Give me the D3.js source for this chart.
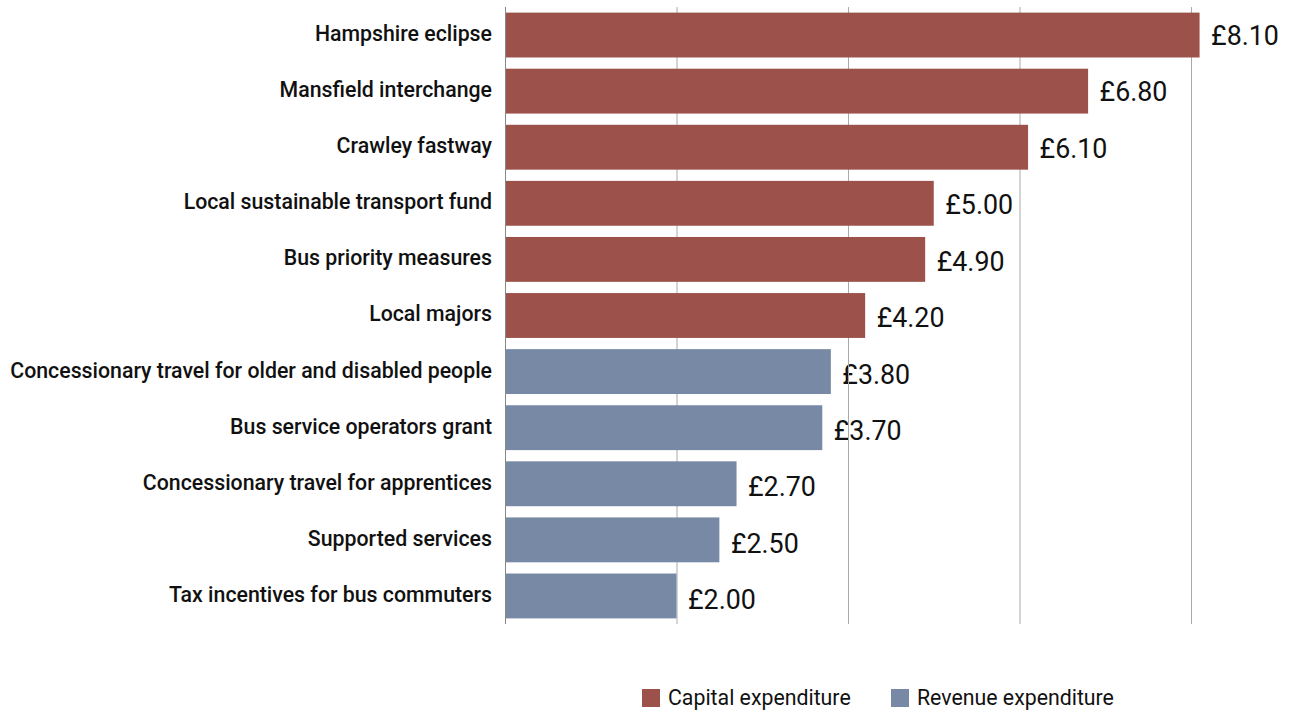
<!DOCTYPE html>
<html><head><meta charset="utf-8">
<script src="https://cdn.jsdelivr.net/npm/d3@7"></script>
<style>body{margin:0;background:#fff}svg{display:block;font-family:Roboto,sans-serif}</style>
</head><body><svg id="c" width="1294" height="713"></svg>
<script>
const categories = ["Hampshire eclipse","Mansfield interchange","Crawley fastway","Local sustainable transport fund","Bus priority measures","Local majors","Concessionary travel for older and disabled people","Bus service operators grant","Concessionary travel for apprentices","Supported services","Tax incentives for bus commuters"];
const values = [8.1,6.8,6.1,5.0,4.9,4.2,3.8,3.7,2.7,2.5,2.0];
const types = ["Capital expenditure","Capital expenditure","Capital expenditure","Capital expenditure","Capital expenditure","Capital expenditure","Revenue expenditure","Revenue expenditure","Revenue expenditure","Revenue expenditure","Revenue expenditure"];
const seriesNames = ["Capital expenditure","Revenue expenditure"];
const gridTicks = [0,2,4,6,8];

const svg = d3.select("#c");
const color = d3.scaleOrdinal().domain(seriesNames).range(["#9c524b","#7789a4"]);
const x = d3.scaleLinear().domain([0,8]).range([505,1191]);
const y = d3.scaleBand().domain(categories).range([7,624]).paddingInner(0.2).paddingOuter(0.1);
const yVal = d3.scalePoint().domain(categories).range([35.5,600]);
const data = categories.map((c,i)=>({c, v:values[i], t:types[i]}));

// category labels
svg.append("g").selectAll("text").data(data).join("text")
  .attr("x",492).attr("y",d=>y(d.c)+y.bandwidth()/2-1.5).attr("dy","0.35em")
  .attr("text-anchor","end").attr("font-size",21.3).attr("font-weight",500).attr("fill","#111")
  .text(d=>d.c);
// value labels
svg.append("g").selectAll("text").data(data).join("text")
  .attr("x",d=>x(d.v)+11.5).attr("y",d=>yVal(d.c)).attr("dy","0.35em")
  .attr("font-size",26.8).attr("fill","#111")
  .text(d=>"£"+d.v.toFixed(2));
// gridlines
svg.append("g").selectAll("line").data(gridTicks).join("line")
  .attr("x1",d=>x(d)+0.5).attr("x2",d=>x(d)+0.5).attr("y1",7).attr("y2",624)
  .attr("stroke",d=>d===0?"#888":"#aaa").attr("stroke-width",1);
// bars
svg.append("g").selectAll("rect").data(data).join("rect")
  .attr("x",x(0)+1).attr("y",d=>y(d.c)).attr("width",d=>x(d.v)-x(0)-1).attr("height",y.bandwidth())
  .attr("fill",d=>color(d.t));
// legend
const legX = [642,891];
const lg = svg.append("g").selectAll("g").data(seriesNames).join("g")
  .attr("transform",(d,i)=>`translate(${legX[i]},689)`);
lg.append("rect").attr("width",18).attr("height",18).attr("fill",d=>color(d));
lg.append("text").attr("x",26).attr("y",9).attr("dy","0.35em").attr("font-size",21.3).attr("fill","#111").text(d=>d);
</script></body></html>
